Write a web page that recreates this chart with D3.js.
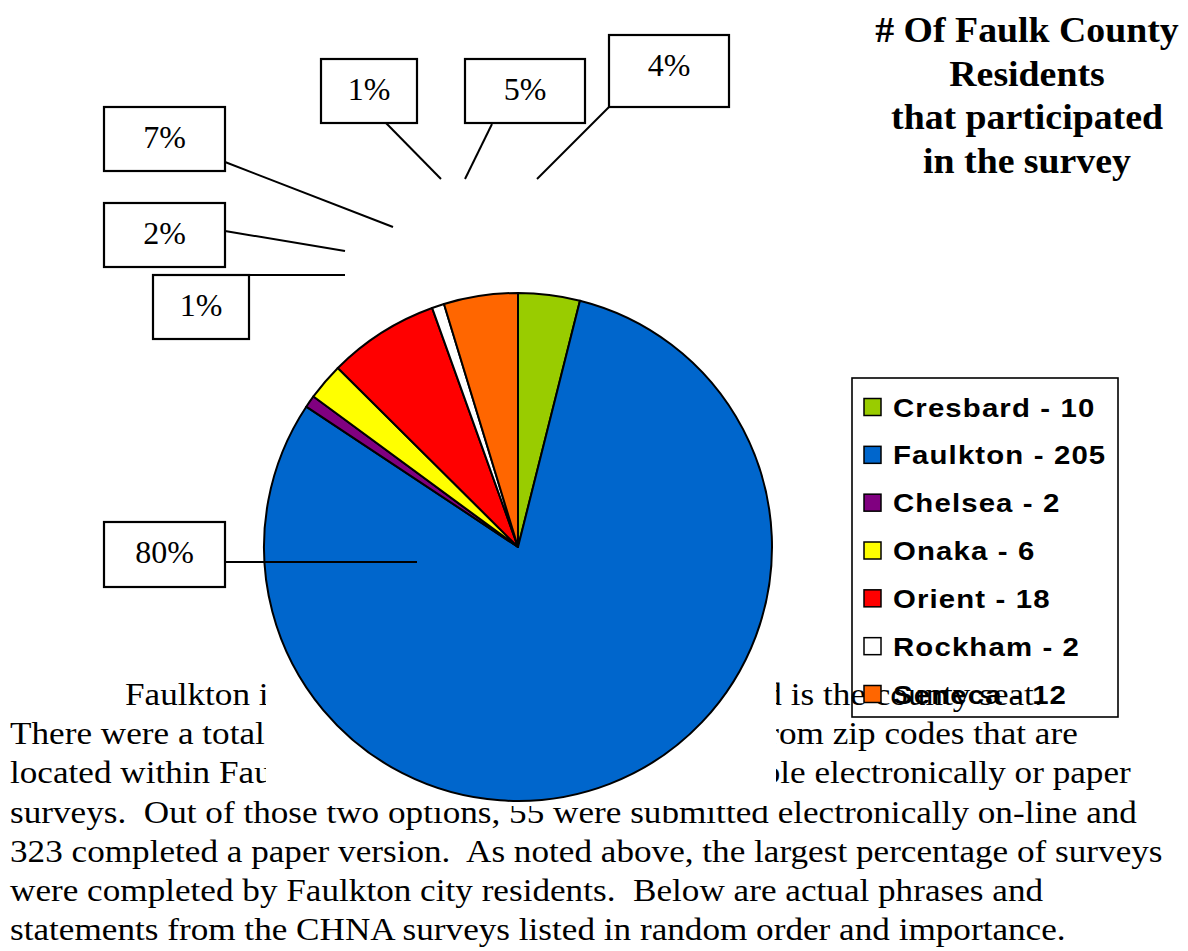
<!DOCTYPE html>
<html><head><meta charset="utf-8">
<script src="https://cdn.jsdelivr.net/npm/d3@7"></script>
<style>body{margin:0;background:#fff;overflow:hidden}</style>
</head><body>
<svg id="c" width="1188" height="951"></svg>
<script>
// ---------- data ----------
const towns = ["Cresbard","Faulkton","Chelsea","Onaka","Orient","Rockham","Seneca"];
const residents = [10,205,2,6,18,2,12];
const sliceColors = ["#99CC00","#0066CC","#800080","#FFFF00","#FF0000","#FFFFFF","#FF6600"];
const titleLines = ["# Of Faulk County","Residents","that participated","in the survey"];

// body paragraph (split lines are partly hidden by the chart area)
const bodyLines = [
  {left:"Faulkton is the largest town in Faulk County", lx:125, right:"and is the county seat.", prefix:"and is the", px:866},
  {left:"There were a total of 255 surveys", lx:10, right:"surveys returned from zip codes that are", prefix:"surveys returned from zip codes that are", px:1078},
  {left:"located within Faulk County.", lx:10, right:"Surveys were available electronically or paper", prefix:"Surveys were available electronically or paper", px:1131},
  {full:"surveys.  Out of those two options, 55 were submitted electronically on-line and"},
  {full:"323 completed a paper version.  As noted above, the largest percentage of surveys"},
  {full:"were completed by Faulkton city residents.  Below are actual phrases and"},
  {full:"statements from the CHNA surveys listed in random order and importance."}
];

// ---------- layout ----------
const W = 1188, H = 951;
const cx = 518, cy = 547, R = 254;
const labelLayout = [ // box + leader for each town, in the order of towns
  {x:609,y:35,w:120,h:72, l:[609,107,537,179]},
  {x:104,y:522,w:121,h:65, l:[225,562,417,562]},
  {x:153,y:275,w:96,h:64, l:[249,275,345,275]},
  {x:104,y:203,w:121,h:64, l:[225,231,345,251]},
  {x:104,y:107,w:121,h:64, l:[225,162,393,227]},
  {x:321,y:59,w:96,h:64, l:[386,123,441,179]},
  {x:465,y:59,w:120,h:64, l:[492,124,465,179]}
];

const svg = d3.select("#c");
const serif = "'Liberation Serif','Times New Roman',serif";
const sans = "'Liberation Sans',Arial,sans-serif";

// ---------- body text ----------
const bodyG = svg.append("g");
const bodySize = 31, lineStart = 705, lineGap = 39.2, textLeft = 10;
function measure(str){
  const t = bodyG.append("text").attr("font-family",serif).attr("font-size",bodySize)
    .style("white-space","pre").text(str);
  const w = t.node().getComputedTextLength(); t.remove(); return w;
}
const sx = (1163 - textLeft) / measure(bodyLines[4].full);
function put(str, x, y){
  bodyG.append("text").attr("transform",`translate(${x},${y}) scale(${sx},1)`)
    .attr("font-family",serif).attr("font-size",bodySize).attr("fill","#000")
    .style("white-space","pre").text(str);
}
bodyLines.forEach((d,i)=>{
  const y = lineStart + i*lineGap;
  if(d.full){ put(d.full, textLeft, y); }
  else {
    put(d.left, d.lx, y);
    put(d.right, d.px - sx*measure(d.prefix), y);
  }
});

// chart area (white) hides the middle of the paragraph
svg.append("rect").attr("x",266).attr("y",170).attr("width",510).attr("height",636).attr("fill","#fff");

// ---------- pie ----------
const total = d3.sum(residents);
const pie = d3.pie().sort(null).value(d=>d)(residents);
const arc = d3.arc().innerRadius(0).outerRadius(R);
svg.append("g").attr("transform",`translate(${cx},${cy})`)
  .selectAll("path").data(pie).join("path")
  .attr("d",arc).attr("fill",(d,i)=>sliceColors[i])
  .attr("stroke","#000").attr("stroke-width",2).attr("stroke-linejoin","round");

// ---------- data labels ----------
const fmt = d3.format(".0%");
const lab = svg.append("g");
residents.forEach((v,i)=>{
  const L = labelLayout[i];
  lab.append("line").attr("x1",L.l[0]).attr("y1",L.l[1]).attr("x2",L.l[2]).attr("y2",L.l[3])
    .attr("stroke","#000").attr("stroke-width",2);
  lab.append("rect").attr("x",L.x).attr("y",L.y).attr("width",L.w).attr("height",L.h)
    .attr("fill","#fff").attr("stroke","#000").attr("stroke-width",2.2);
  lab.append("text").attr("x",L.x+L.w/2).attr("y",L.y+41)
    .attr("text-anchor","middle").attr("font-family",serif).attr("font-size",32)
    .attr("fill","#000").text(fmt(v/total));
});

// ---------- legend ----------
const leg = svg.append("g");
leg.append("rect").attr("x",852).attr("y",378).attr("width",266).attr("height",339)
  .attr("fill","none").attr("stroke","#000").attr("stroke-width",1.6);
const legY = d3.scalePoint().domain(towns).range([407,694]);
towns.forEach((t,i)=>{
  const y = legY(t);
  leg.append("rect").attr("x",864).attr("y",y-8.5).attr("width",17).attr("height",17)
    .attr("fill",sliceColors[i]).attr("stroke","#000").attr("stroke-width",1.5);
  leg.append("text").attr("transform",`translate(893,${y+9.5}) scale(1.13,1)`)
    .attr("font-family",sans).attr("font-weight","bold").attr("font-size",26)
    .attr("letter-spacing","1px").attr("fill","#000")
    .text(`${t} - ${residents[i]}`);
});

// ---------- title ----------
svg.append("g").selectAll("text").data(titleLines).join("text")
  .attr("transform",(d,i)=>`translate(1027,${42 + i*43.6}) scale(1.05,1)`)
  .attr("text-anchor","middle").attr("font-family",serif).attr("font-weight","bold")
  .attr("font-size",36).attr("fill","#000").text(d=>d);
</script>
</body></html>
